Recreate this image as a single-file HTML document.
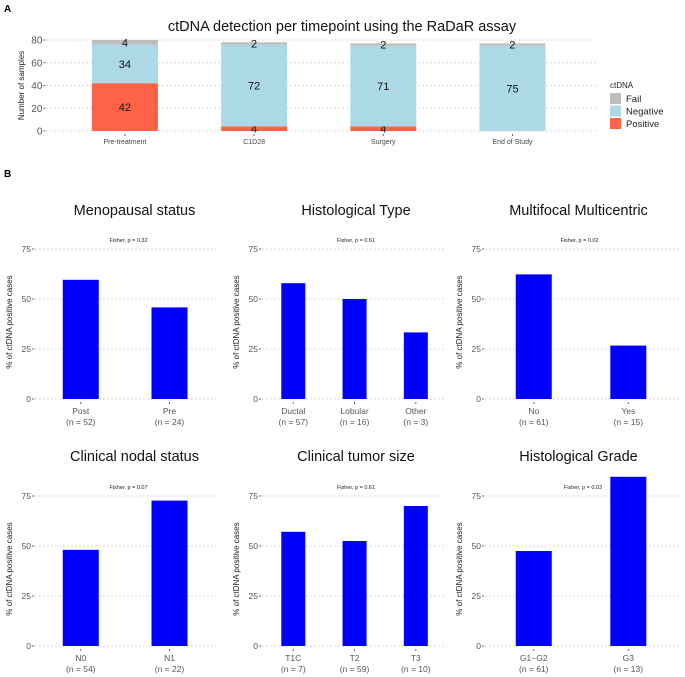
<!DOCTYPE html>
<html><head><meta charset="utf-8"><style>
html,body{margin:0;padding:0;background:#fff;}
svg{display:block;font-family:"Liberation Sans",sans-serif;}
</style></head><body>
<svg id="s" width="685" height="677" viewBox="0 0 685 677"></svg>
<script>
// Panel A data
const timepoints=["Pre-treatment","C1D28","Surgery","End of Study"];
const positiveCounts=[42,4,4,0];
const negativeCounts=[34,72,71,75];
const failCounts=[4,2,2,2];
const countTicks=[0,20,40,60,80];
// Panel B data
const panelTitles=["Menopausal status","Histological Type","Multifocal Multicentric","Clinical nodal status","Clinical tumor size","Histological Grade"];
const fisherLabels=["Fisher, p = 0.32","Fisher, p = 0.61","Fisher, p = 0.02","Fisher, p = 0.07","Fisher, p = 0.61","Fisher, p = 0.03"];
const menoCats=["Post","Pre"];const menoN=[52,24];const menoVals=[59.6,45.8];
const histCats=["Ductal","Lobular","Other"];const histN=[57,16,3];const histVals=[57.9,50,33.3];
const multiCats=["No","Yes"];const multiN=[61,15];const multiVals=[62.3,26.7];
const nodalCats=["N0","N1"];const nodalN=[54,22];const nodalVals=[48.1,72.7];
const sizeCats=["T1C","T2","T3"];const sizeN=[7,59,10];const sizeVals=[57.1,52.5,70];
const gradeCats=["G1\u2212G2","G3"];const gradeN=[61,13];const gradeVals=[47.5,84.6];
const pctTicks=[0,25,50,75];

const NS="http://www.w3.org/2000/svg";
const svg=document.getElementById('s');
function mk(tag,attrs,parent,text){const e=document.createElementNS(NS,tag);for(const k in attrs)e.setAttribute(k,attrs[k]);if(text!==undefined)e.textContent=text;(parent||svg).appendChild(e);return e;}

let t=mk('text',{x:4,y:12,'font-size':10,'font-weight':'bold'},svg,'A');


t=mk('text',{x:4,y:177,'font-size':10,'font-weight':'bold'},svg,'B');



// Panel A
const gA=mk('g',{});


t=mk('text',{x:342,y:31,'font-size':14.5,'text-anchor':'middle',fill:'#111'},gA,'ctDNA detection per timepoint using the RaDaR assay');


const ax0=47.4,ax1=590,ay0=131,ay80=40;
const yA=v=>ay0+(ay80-ay0)*v/80;
const xA=i=>ax0+(ax1-ax0)*(0.6+i)/(timepoints.length+0.2);
countTicks.forEach(v=>{
  const l=mk('line',{x1:ax0-1,x2:598,y1:yA(v),y2:yA(v),stroke:'#ccc','stroke-dasharray':'1.5,2.5','stroke-width':1},gA);
  
  
  mk('line',{x1:ax0-4,x2:ax0-2,y1:yA(v),y2:yA(v),stroke:'#666'},gA);
  const tt=mk('text',{x:ax0-5,y:yA(v)+3.5,'font-size':10,'text-anchor':'end',fill:'#555'},gA,String(v));
  
  
});
t=mk('text',{x:0,y:0,'font-size':8,'text-anchor':'middle',fill:'#222',transform:`translate(24,${(ay0+ay80)/2}) rotate(-90)`},gA,'Number of samples');


const bw=66;
timepoints.forEach((c,i)=>{
  const cx=xA(i);
  const segs=[[positiveCounts[i],'#ff6347','positive'],[negativeCounts[i],'#add8e6','negative'],[failCounts[i],'#bebebe','fail']];
  let base=0;
  segs.forEach(([v,col,nm])=>{
    if(v>0){
      const r=mk('rect',{x:cx-bw/2,y:yA(base+v),width:bw,height:yA(base)-yA(base+v),fill:col},gA);
      
      
      const lt=mk('text',{x:cx,y:(yA(base)+yA(base+v))/2+4,'font-size':11,'text-anchor':'middle',fill:'#111'},gA,String(v));
      
      
    }
    base+=v;
  });
  mk('line',{x1:cx,x2:cx,y1:ay0+3,y2:ay0+5,stroke:'#666'},gA);
  const xt=mk('text',{x:cx,y:ay0+13,'font-size':7,'text-anchor':'middle',fill:'#444'},gA,c);
  
  
});
const gL=mk('g',{},gA);


mk('text',{x:610,y:88,'font-size':8,fill:'#222'},gL,'ctDNA');
[['Fail','#bebebe'],['Negative','#add8e6'],['Positive','#ff6347']].forEach(([n,c],k)=>{
  const y=93+k*12.5;
  const r=mk('rect',{x:610,y:y,width:11,height:11,fill:c},gL);
  
  
  const lt=mk('text',{x:626,y:y+9,'font-size':9.5,fill:'#222'},gL,n);
  
  
});

// Panel B
const panels=[
 {cats:menoCats,n:menoN,v:menoVals,x0:35,x1:218,row:0,bw:36},
 {cats:histCats,n:histN,v:histVals,x0:262,x1:446,row:0,bw:24},
 {cats:multiCats,n:multiN,v:multiVals,x0:485,x1:680,row:0,bw:36},
 {cats:nodalCats,n:nodalN,v:nodalVals,x0:35,x1:218,row:1,bw:36},
 {cats:sizeCats,n:sizeN,v:sizeVals,x0:262,x1:446,row:1,bw:24},
 {cats:gradeCats,n:gradeN,v:gradeVals,x0:485,x1:680,row:1,bw:36}
];
const rowY0=[399,646],rowY75=[249,496],titleY=[215,461];
panels.forEach((p,k)=>{
  const g=mk('g',{});
  
  
  const y0=rowY0[p.row],y75=rowY75[p.row];
  const yS=v=>y0+(y75-y0)*v/75;
  const xS=i=>p.cats.length===2?(p.x0+(p.x1-p.x0)*(0.25+0.485*i)):(p.x0+(p.x1-p.x0)*(0.17+0.333*i));
  const tt=mk('text',{x:(p.x0+p.x1)/2+(k%3===0?8:(k%3===1?2:-4)),y:titleY[p.row],'font-size':14.5,'text-anchor':'middle',fill:'#111'},g,panelTitles[k]);
  
  
  pctTicks.forEach(v=>{
    const l=mk('line',{x1:p.x0,x2:p.x1,y1:yS(v),y2:yS(v),stroke:'#ccc','stroke-dasharray':'1.5,2.5'},g);
    
    
    mk('line',{x1:p.x0-3,x2:p.x0-1,y1:yS(v),y2:yS(v),stroke:'#666'},g);
    const lt=mk('text',{x:p.x0-4,y:yS(v)+3,'font-size':8.5,'text-anchor':'end',fill:'#555'},g,String(v));
    
    
  });
  const yt=mk('text',{x:0,y:0,'font-size':8,'text-anchor':'middle',fill:'#222',transform:`translate(${p.x0-23},${(y0+y75)/2-2}) rotate(-90)`},g,'% of ctDNA positive cases');
  
  
  p.cats.forEach((c,i)=>{
    const cx=xS(i);
    const r=mk('rect',{x:cx-p.bw/2,y:yS(p.v[i]),width:p.bw,height:y0-yS(p.v[i]),fill:'#0000ff'},g);
    
    
    mk('line',{x1:cx,x2:cx,y1:y0+3,y2:y0+5,stroke:'#666'},g);
    const a=mk('text',{x:cx,y:y0+15,'font-size':8.5,'text-anchor':'middle',fill:'#555'},g,c);
    
    
    const b=mk('text',{x:cx,y:y0+26,'font-size':8.5,'text-anchor':'middle',fill:'#555'},g,'(n = '+p.n[i]+')');
    
    
  });
  const fx=k===5?583:(p.x0+p.x1)/2+(k%3===2?-3:2);
  const f=mk('text',{x:fx,y:y75-7,'font-size':5.5,'text-anchor':'middle',fill:'#222'},g,fisherLabels[k]);
  
  
});
</script>
</body></html>
